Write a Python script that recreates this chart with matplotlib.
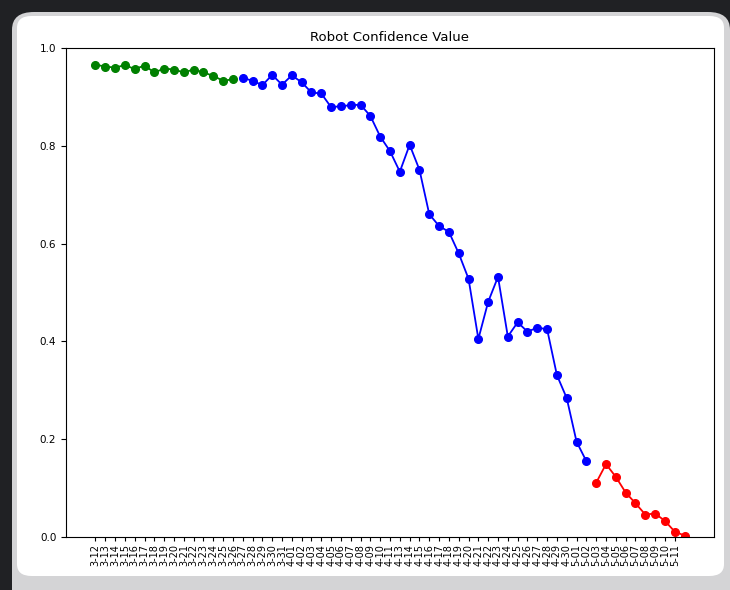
import matplotlib
matplotlib.use("Agg")
import matplotlib.pyplot as plt
from matplotlib.patches import FancyBboxPatch

# dates on the x axis (4-12 is missing in the source data)
dates = (["3-%02d" % d for d in range(12, 32)]
         + ["4-%02d" % d for d in range(1, 12)]
         + ["4-%02d" % d for d in range(13, 31)]
         + ["5-%02d" % d for d in range(1, 13)])

# confidence values, split by phase
green_vals = [0.966, 0.962, 0.960, 0.965, 0.957, 0.964, 0.950, 0.958,
              0.956, 0.950, 0.956, 0.950, 0.943, 0.933, 0.936]
blue_vals = [0.939, 0.933, 0.924, 0.945, 0.925, 0.944, 0.930, 0.909,
             0.907, 0.879, 0.881, 0.883, 0.884, 0.861, 0.819, 0.789,
             0.747, 0.802, 0.751, 0.660, 0.636, 0.624, 0.580, 0.528,
             0.405, 0.481, 0.532, 0.410, 0.439, 0.420, 0.428, 0.425,
             0.331, 0.284, 0.195, 0.155]
red_vals = [0.111, 0.149, 0.123, 0.091, 0.069, 0.046, 0.048, 0.033,
            0.011, 0.003]

W, H = 730, 590
fig = plt.figure(figsize=(W / 100, H / 100), dpi=100)
fig.patch.set_facecolor("#202124")

# screenshot-like rounded panel
outer = FancyBboxPatch((12 / W, -0.05), 718 / W, (H - 12) / H + 0.05,
                       boxstyle="round,pad=0,rounding_size=0.03",
                       transform=fig.transFigure, facecolor="#d4d4d6",
                       edgecolor="none", zorder=-2)
inner = FancyBboxPatch((17 / W, 14 / H), 707 / W, (H - 30) / H,
                       boxstyle="round,pad=0,rounding_size=0.02",
                       transform=fig.transFigure, facecolor="white",
                       edgecolor="none", zorder=-1)
fig.patches.extend([outer, inner])

ax = fig.add_axes([66 / W, (H - 537) / H, 648 / W, 489 / H])
ax.set_zorder(2)

n_g, n_b = len(green_vals), len(blue_vals)
x_all = list(range(len(dates)))
x_g = x_all[:n_g]
x_b = x_all[n_g:n_g + n_b]
x_r = x_all[n_g + n_b:]

ax.plot(x_g, green_vals, "o-", color="green", markersize=5.5, linewidth=1.3)
ax.plot(x_b, blue_vals, "o-", color="blue", markersize=5.5, linewidth=1.3)
ax.plot(x_r, red_vals, "o-", color="red", markersize=5.5, linewidth=1.3)

ax.set_ylim(0, 1.0)
ax.set_xticks(x_all[:-1], dates[:-1], rotation=90, fontsize=7)
ax.tick_params(axis="y", labelsize=7.5)
ax.tick_params(axis="x", length=3, pad=2)
ax.set_title("Robot Confidence Value", fontsize=9.5, pad=5)
for s in ax.spines.values():
    s.set_linewidth(0.8)

fig.savefig("out.png", dpi=100, facecolor=fig.get_facecolor())
